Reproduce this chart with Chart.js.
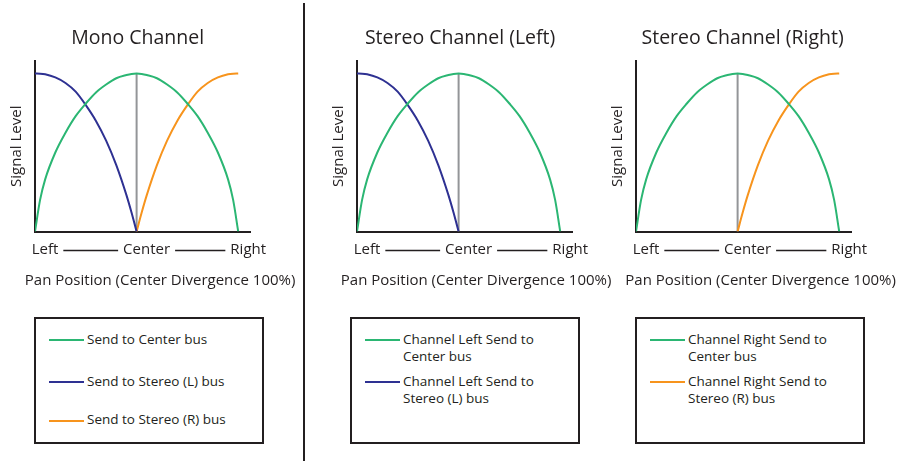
<!DOCTYPE html>
<html lang="en">
<head>
<meta charset="UTF-8" />
<title>Pan Position</title>
<script src="https://cdn.jsdelivr.net/npm/chart.js"></script>
<style>
  body { margin: 0; background: #fff; }
  #page { position: relative; width: 909px; height: 461px; overflow: hidden; font-family: "Open Sans", sans-serif; color: #231f20; }
  canvas { position: absolute; top: 0; }
  .divider { position: absolute; left: 303px; top: 3px; width: 2px; height: 458px; background: #231f20; }
  .legend { position: absolute; top: 317px; width: 226px; height: 123px; border: 2px solid #231f20; }
  .item { position: absolute; left: 0; right: 0; }
  .item .swatch { position: absolute; left: 13px; top: 0; width: 35px; height: 2px; }
  .item .text { position: absolute; left: 51px; top: -8.5px; width: 148px; font-size: 13.5px; line-height: 17px; }
</style>
</head>
<body>
<div id="page">
  <div class="divider"></div>
</div>
<script>
  // pan position: 0 = Left, 1 = Center, 2 = Right
  const panPositions = [0, 0.05, 0.1, 0.2, 0.3, 0.4, 0.5, 0.6, 0.7, 0.8, 0.9, 0.95, 1, 1.05, 1.1, 1.2, 1.3, 1.4, 1.5, 1.6, 1.7, 1.8, 1.9, 1.95, 2];
  const sendCenter = [0, 0.2, 0.33, 0.5, 0.625, 0.73, 0.81, 0.88, 0.93, 0.97, 0.99, 0.997, 1, 0.997, 0.99, 0.97, 0.93, 0.88, 0.81, 0.73, 0.625, 0.5, 0.33, 0.2, 0];
  const sendStereoL = [1, 0.999, 0.995, 0.975, 0.94, 0.885, 0.8, 0.7, 0.575, 0.42, 0.23, 0.12, 0, null, null, null, null, null, null, null, null, null, null, null, null];
  const sendStereoR = [null, null, null, null, null, null, null, null, null, null, null, null, 0, 0.12, 0.23, 0.42, 0.575, 0.7, 0.8, 0.885, 0.94, 0.975, 0.995, 0.999, 1];
  const centerMarkX = [1, 1];
  const centerMarkY = [0, 1];

  const tickValues = [0, 1, 2];
  const tickLabels = ["Left", "Center", "Right"];
  const panelTitles = ["Mono Channel", "Stereo Channel (Left)", "Stereo Channel (Right)"];
  const yTitle = "Signal Level";
  const xTitle = "Pan Position (Center Divergence 100%)";

  const monoLabels = ["Send to Center bus", "Send to Stereo (L) bus", "Send to Stereo (R) bus"];
  const leftLabels = ["Channel Left Send to Center bus", "Channel Left Send to Stereo (L) bus"];
  const rightLabels = ["Channel Right Send to Center bus", "Channel Right Send to Stereo (R) bus"];

  const ink = "#231f20";
  const green = "#2bb673";
  const blue = "#2e3192";
  const orange = "#f7941d";
  const gray = "#939598";
  const face = '"Open Sans", sans-serif';

  Chart.defaults.font.family = face;
  Chart.defaults.color = ink;

  function toPoints(xs, ys) {
    return xs.map((x, i) => ({ x: x, y: ys[i] })).filter((p) => p.y !== null);
  }

  function curve(label, values, color) {
    return {
      label: label,
      data: toPoints(panPositions, values),
      borderColor: color,
      backgroundColor: color,
      borderWidth: 2,
      pointRadius: 0,
      cubicInterpolationMode: "monotone",
      order: 0,
    };
  }

  // title, axis title and the dashes between Left / Center / Right
  const panelText = {
    id: "panelText",
    afterDraw(chart, args, opts) {
      const ctx = chart.ctx;
      const x = chart.scales.x;
      const mid = x.getPixelForValue(1);
      ctx.save();
      ctx.fillStyle = ink;
      ctx.textAlign = "center";
      ctx.textBaseline = "middle";
      ctx.font = "19.5px " + face;
      ctx.fillText(opts.title, mid + opts.titleShift, 38);
      ctx.font = "15px " + face;
      ctx.fillText(xTitle, mid + opts.xTitleShift, 281);

      const t = x.options.ticks;
      const y = Math.round(x.top + t.padding + 9) + 0.5;
      const spans = tickValues.map((v, i) => {
        const c = x.getPixelForValue(v) + t.labelOffset;
        const w = ctx.measureText(tickLabels[i]).width;
        return [c - w / 2, c + w / 2];
      });
      ctx.strokeStyle = ink;
      ctx.lineWidth = 1.5;
      for (let i = 0; i < spans.length - 1; i++) {
        ctx.beginPath();
        ctx.moveTo(spans[i][1] + 5, y);
        ctx.lineTo(spans[i + 1][0] - 5, y);
        ctx.stroke();
      }
      ctx.restore();
    },
  };

  const panels = [
    { left: 0, legendLeft: 34, title: panelTitles[0], titleShift: 1, xTitleShift: 23.5,
      datasets: [curve(monoLabels[0], sendCenter, green), curve(monoLabels[1], sendStereoL, blue), curve(monoLabels[2], sendStereoR, orange)] },
    { left: 322, legendLeft: 350, title: panelTitles[1], titleShift: 1.5, xTitleShift: 17.5,
      datasets: [curve(leftLabels[0], sendCenter, green), curve(leftLabels[1], sendStereoL, blue)] },
    { left: 601, legendLeft: 635, title: panelTitles[2], titleShift: 5, xTitleShift: 23,
      datasets: [curve(rightLabels[0], sendCenter, green), curve(rightLabels[1], sendStereoR, orange)] },
  ];

  const rowCenters = [21, 63, 101.5];
  const page = document.getElementById("page");

  panels.forEach((p) => {
    const canvas = document.createElement("canvas");
    canvas.width = 302;
    canvas.height = 300;
    canvas.style.left = p.left + "px";
    page.appendChild(canvas);

    const centerMark = {
      data: toPoints(centerMarkX, centerMarkY),
      borderColor: gray,
      borderWidth: 2,
      pointRadius: 0,
      order: 1,
    };

    const chart = new Chart(canvas.getContext("2d"), {
      type: "line",
      data: { datasets: [centerMark].concat(p.datasets) },
      options: {
        responsive: false,
        animation: false,
        layout: { padding: { top: 61, right: 52, left: 0, bottom: 0 } },
        plugins: {
          legend: { display: false },
          tooltip: { enabled: false },
          panelText: { title: p.title, titleShift: p.titleShift, xTitleShift: p.xTitleShift },
        },
        scales: {
          x: {
            type: "linear",
            min: 0,
            max: 2.116,
            grid: { display: false, drawTicks: false },
            border: { color: ink, width: 2 },
            afterBuildTicks: (s) => {
              s.ticks = tickValues.map((v) => ({ value: v }));
            },
            afterFit: (s) => {
              s.height = 68.5;
            },
            ticks: {
              padding: 9,
              labelOffset: 10,
              maxRotation: 0,
              autoSkip: false,
              color: ink,
              font: { size: 15 },
              callback: (v, i) => tickLabels[i],
            },
          },
          y: {
            type: "linear",
            min: 0,
            max: 1.079,
            grid: { display: false, drawTicks: false },
            border: { color: ink, width: 2 },
            ticks: { display: false },
            afterFit: (s) => {
              s.width = 35;
            },
            title: {
              display: true,
              text: yTitle,
              color: ink,
              font: { size: 15 },
              padding: { top: 8, bottom: 0 },
            },
          },
        },
      },
      plugins: [panelText],
    });

    // legend box built from the chart's own datasets
    const box = document.createElement("div");
    box.className = "legend";
    box.style.left = p.legendLeft + "px";
    chart.data.datasets
      .filter((d) => d.label)
      .forEach((d, i) => {
        const item = document.createElement("div");
        item.className = "item";
        item.style.top = rowCenters[i] - 1 + "px";
        item.innerHTML = '<div class="swatch" style="background:' + d.borderColor + '"></div><div class="text">' + d.label + "</div>";
        box.appendChild(item);
      });
    page.appendChild(box);
  });
</script>
</body>
</html>
